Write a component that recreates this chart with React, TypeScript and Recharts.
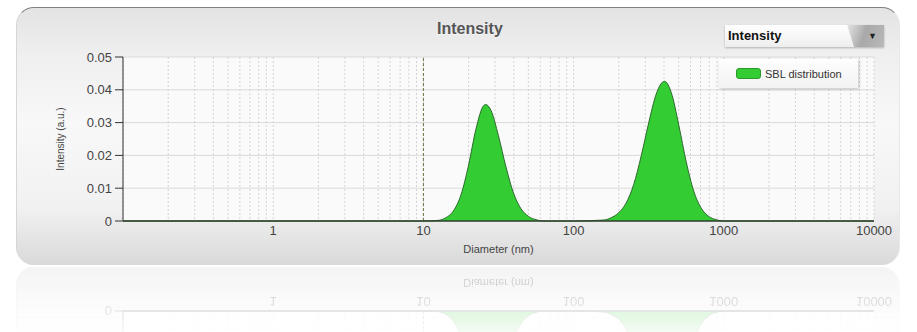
import React from 'react';
import {
  AreaChart,
  Area,
  XAxis,
  YAxis,
  CartesianGrid,
  ReferenceLine,
  Legend,
} from 'recharts';

// diameters (nm) and the intensity at each one
const diameters = [
  0.1, 1, 10, 12.6, 14.1, 15.8, 17.8, 20.0, 22.4, 25.1, 26.0, 28.2, 31.6, 35.5, 39.8, 44.7, 50.1, 56.2,
  63.1, 100, 158.5, 177.8, 199.5, 223.9, 251.2, 281.8, 316.2, 354.8, 402.7, 446.7, 501.2, 562.3, 631.0,
  707.9, 794.3, 891.3, 1000, 10000,
];
const intensities = [
  0, 0, 0, 0.0002, 0.001, 0.003, 0.008, 0.0171, 0.0281, 0.0351, 0.0355, 0.0337, 0.026, 0.0164, 0.0085,
  0.0037, 0.0014, 0.0004, 0, 0, 0.0003, 0.001, 0.0025, 0.0055, 0.0111, 0.0198, 0.0299, 0.0387, 0.0426,
  0.0392, 0.0293, 0.018, 0.0091, 0.0039, 0.0014, 0.0004, 0, 0,
];

const xMajorTicks = [1, 10, 100, 1000, 10000];
const xTicks = [
  0.1, 0.2, 0.3, 0.4, 0.5, 0.6, 0.7, 0.8, 0.9, 1, 2, 3, 4, 5, 6, 7, 8, 9, 10, 20, 30, 40, 50, 60, 70, 80,
  90, 100, 200, 300, 400, 500, 600, 700, 800, 900, 1000, 2000, 3000, 4000, 5000, 6000, 7000, 8000, 9000,
  10000,
];
const yTicks = [0, 0.01, 0.02, 0.03, 0.04, 0.05];

const seriesName = 'SBL distribution';
const titleText = 'Intensity';
const selectText = 'Intensity';

const data = diameters.map((d, i) => ({ d, v: intensities[i] }));

const font = '"Liberation Sans", Arial, Helvetica, sans-serif';

const YLabel = (props: any) => {
  const vb = props.viewBox;
  const cx = vb.x + 44;
  const cy = vb.y + vb.height / 2;
  return (
    <text
      x={cx}
      y={cy}
      transform={`rotate(-90 ${cx} ${cy})`}
      textAnchor="middle"
      dominantBaseline="middle"
      fontSize={10}
      fontFamily={font}
      fill="#444"
    >
      Intensity (a.u.)
    </text>
  );
};

const LegendBox = (props: any) => {
  const item = (props.payload || [])[0];
  return (
    <div
      style={{
        width: 139,
        height: 29,
        boxSizing: 'border-box',
        background: 'linear-gradient(#fefefe, #f2f2f2)',
        boxShadow: '1px 1px 3px rgba(0,0,0,0.22)',
        display: 'flex',
        alignItems: 'center',
        fontFamily: font,
        fontSize: 11,
        color: '#333',
      }}
    >
      <span
        style={{
          display: 'inline-block',
          width: 23,
          height: 9,
          background: '#33cc33',
          border: '1px solid #2b9a2b',
          borderRadius: 3,
          marginLeft: 17,
          marginRight: 4,
        }}
      />
      {item ? item.value : seriesName}
    </div>
  );
};

// mirror = the faded reflection under the panel: only the bits that show there get text
function Panel({ mirror = false }: { mirror?: boolean }) {
  return (
    <div
      style={{
        position: 'absolute',
        left: 16,
        top: 0,
        width: 884,
        height: 258,
        borderRadius: 18,
        boxSizing: 'border-box',
        borderTop: '1.5px solid #808080',
        borderLeft: '1px solid #d6d6d6',
        borderRight: '1px solid #e8e8e8',
        background:
          'linear-gradient(to bottom, #e3e3e3 0%, #efefef 18%, #f8f8f8 45%, #f1f1f1 78%, #d9d9d9 100%)',
        overflow: 'hidden',
      }}
    >
      {!mirror && (
        <div
          style={{
            position: 'absolute',
            left: 420,
            top: 12,
            fontFamily: font,
            fontSize: 16,
            fontWeight: 'bold',
            color: '#555',
            textShadow: '0 1px 0 rgba(255,255,255,0.7)',
          }}
        >
          {titleText}
        </div>
      )}
      {!mirror && (
        <div
          style={{
            position: 'absolute',
            left: 708,
            top: 17,
            width: 159,
            height: 22,
            background: 'linear-gradient(#ffffff, #eeeeee)',
            boxShadow: '0 1px 2px rgba(0,0,0,0.25)',
            fontFamily: font,
            fontSize: 13,
            fontWeight: 'bold',
            color: '#111',
            lineHeight: '22px',
          }}
        >
          <span style={{ marginLeft: 3 }}>{selectText}</span>
          <div
            style={{
              position: 'absolute',
              right: 0,
              top: 0,
              width: 46,
              height: 22,
              background:
                'linear-gradient(110deg, rgba(255,255,255,0) 0%, #d8d8d8 25%, #a9a9a9 55%, #b8b8b8 100%)',
              clipPath: 'polygon(20% 0, 100% 0, 100% 100%, 35% 100%)',
            }}
          />
          <span style={{ position: 'absolute', right: 7, top: 0, fontSize: 9, color: '#222' }}>▼</span>
        </div>
      )}
      <AreaChart
        width={884}
        height={258}
        data={data}
        margin={{ top: 49, right: 27, left: 0, bottom: 5 }}
        style={{ position: 'absolute', left: 0, top: 0 }}
      >
        <CartesianGrid horizontal vertical={false} stroke="#dadada" fill="#fafafa" />
        <CartesianGrid horizontal={false} vertical stroke="#d4d4d4" strokeDasharray="2 2" />
        <XAxis
          dataKey="d"
          type="number"
          scale="log"
          domain={[0.1, 10000]}
          allowDataOverflow
          ticks={xTicks}
          interval={0}
          tickFormatter={(t: number) => (xMajorTicks.includes(t) ? String(t) : '')}
          tickLine={false}
          tickSize={3}
          tickMargin={2}
          height={40}
          axisLine={{ stroke: '#2f3f2f', strokeWidth: 1.5 }}
          tick={{ fontSize: 13, fill: '#444', fontFamily: font }}
          label={{
            value: 'Diameter (nm)',
            position: 'insideBottom',
            offset: 8,
            fontSize: 11,
            fill: '#444',
            fontFamily: font,
          }}
        />
        <YAxis
          type="number"
          domain={[0, 0.05]}
          ticks={yTicks}
          interval={0}
          width={106}
          tickSize={8}
          tickMargin={3}
          tickFormatter={(t: number) => (t === 0 ? '0' : mirror ? '' : t.toFixed(2))}
          axisLine={{ stroke: '#333' }}
          tickLine={{ stroke: '#333' }}
          tick={{ fontSize: 13, fill: '#444', fontFamily: font }}
          label={mirror ? undefined : { content: YLabel }}
        />
        <ReferenceLine x={10} stroke="#6f6f45" strokeDasharray="3 2" />
        <Area
          type="monotone"
          dataKey="v"
          name={seriesName}
          stroke="#2f6a2f"
          strokeWidth={1}
          fill="#33cc33"
          fillOpacity={1}
          isAnimationActive={false}
          dot={false}
          activeDot={false}
        />
        {!mirror && (
          <Legend
            layout="horizontal"
            align="center"
            verticalAlign="middle"
            content={LegendBox}
            wrapperStyle={{ position: 'absolute', left: 702, top: 51, width: 139 }}
          />
        )}
      </AreaChart>
    </div>
  );
}

export default function App() {
  return (
    <div
      style={{
        position: 'absolute',
        left: 0,
        top: 0,
        width: 917,
        height: 332,
        background: '#ffffff',
        overflow: 'hidden',
      }}
    >
      <div style={{ position: 'absolute', left: 0, top: 7, width: 917, height: 258 }}>
        <Panel />
      </div>
      {/* reflection: only the strip that fits under the panel */}
      <div
        style={{
          position: 'absolute',
          left: 0,
          top: 267,
          width: 917,
          height: 65,
          overflow: 'hidden',
        }}
      >
        <div
          style={{
            position: 'absolute',
            left: 0,
            top: 0,
            width: 917,
            height: 258,
            transform: 'scaleY(-1)',
            transformOrigin: 'center',
            opacity: 0.3,
            WebkitMaskImage:
              'linear-gradient(to top, rgba(0,0,0,1) 0%, rgba(0,0,0,0.4) 20%, rgba(0,0,0,0) 30%)',
            maskImage:
              'linear-gradient(to top, rgba(0,0,0,1) 0%, rgba(0,0,0,0.4) 20%, rgba(0,0,0,0) 30%)',
          }}
        >
          <Panel mirror />
        </div>
      </div>
    </div>
  );
}
